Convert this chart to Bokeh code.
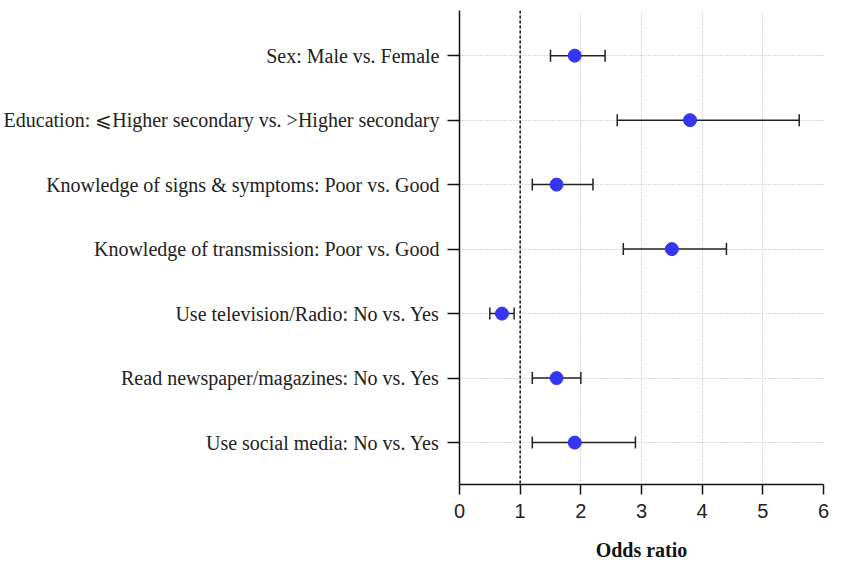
from bokeh.plotting import figure
from bokeh.models import Range1d, FixedTicker, Span, Whisker, ColumnDataSource, TeeHead
from bokeh.embed import file_html
from bokeh.resources import INLINE

labels = [
    "Sex: Male vs. Female",
    "Education: \u2a7dHigher secondary vs. >Higher secondary",
    "Knowledge of signs & symptoms: Poor vs. Good",
    "Knowledge of transmission: Poor vs. Good",
    "Use television/Radio: No vs. Yes",
    "Read newspaper/magazines: No vs. Yes",
    "Use social media: No vs. Yes",
]
odds = [1.9, 3.8, 1.6, 3.5, 0.7, 1.6, 1.9]
lower = [1.5, 2.6, 1.2, 2.7, 0.5, 1.2, 1.2]
upper = [2.4, 5.6, 2.2, 4.4, 0.9, 2.0, 2.9]
x_ticks = [0, 1, 2, 3, 4, 5, 6]

n = len(labels)
ypos = [n - i for i in range(n)]

src = ColumnDataSource(dict(y=ypos, odds=odds, lower=lower, upper=upper))

W, H = 829, 563
L, T, FW, FH = 456, 10, 367, 482

p = figure(width=W, height=H, output_backend="svg", toolbar_location=None,
           x_range=Range1d(0, 6), y_range=Range1d(0.35, 7.7),
           min_border_left=L, min_border_top=T,
           min_border_right=W - L - FW, min_border_bottom=H - T - FH)
p.outline_line_color = None
p.background_fill_color = "white"

# grids
p.xgrid.ticker = FixedTicker(ticks=x_ticks)
p.ygrid.ticker = FixedTicker(ticks=ypos)
for g in (p.xgrid, p.ygrid):
    g.grid_line_color = "#b4b4b4"
    g.grid_line_dash = "1 2"
    g.grid_line_width = 1

# x axis
p.xaxis.ticker = FixedTicker(ticks=x_ticks)
p.xaxis.axis_label = "Odds ratio"
p.xaxis.axis_label_text_font = "Liberation Serif"
p.xaxis.axis_label_text_font_style = "bold"
p.xaxis.axis_label_text_font_size = "20px"
p.xaxis.axis_label_text_color = "#111111"
p.xaxis.axis_label_standoff = 18
p.xaxis.major_label_text_font = "Liberation Sans"
p.xaxis.major_label_text_font_size = "20px"
p.xaxis.major_label_text_color = "#222222"
p.xaxis.major_label_standoff = 9
p.xaxis.major_tick_out = 10
p.xaxis.major_tick_in = 0
p.xaxis.minor_tick_line_color = None
p.xaxis.axis_line_width = 1.5
p.xaxis.major_tick_line_width = 1.5
p.xaxis.axis_line_color = "#111111"
p.xaxis.major_tick_line_color = "#111111"

# y axis
p.yaxis.ticker = FixedTicker(ticks=ypos)
p.yaxis.major_label_overrides = {y: lab for y, lab in zip(ypos, labels)}
p.yaxis.major_label_text_font = "Liberation Serif"
p.yaxis.major_label_text_font_size = "20px"
p.yaxis.major_label_text_color = "#222222"
p.yaxis.major_label_standoff = 8
p.yaxis.major_tick_out = 12
p.yaxis.major_tick_in = 0
p.yaxis.minor_tick_line_color = None
p.yaxis.axis_line_width = 1.5
p.yaxis.major_tick_line_width = 1.5
p.yaxis.axis_line_color = "#111111"
p.yaxis.major_tick_line_color = "#111111"

# reference line
p.add_layout(Span(location=1, dimension="height", line_color="#111111",
                  line_dash="3 2", line_width=1.5))

# error bars
w = Whisker(source=src, base="y", lower="lower", upper="upper", dimension="width",
            line_color="#222222", line_width=1.5,
            lower_head=TeeHead(size=12, line_color="#222222", line_width=1.5),
            upper_head=TeeHead(size=12, line_color="#222222", line_width=1.5))
p.add_layout(w)

p.scatter(x="odds", y="y", source=src, size=13, fill_color="#3636f0",
          line_color="#3636f0")

open("out.html", "w").write(file_html(p, INLINE))
